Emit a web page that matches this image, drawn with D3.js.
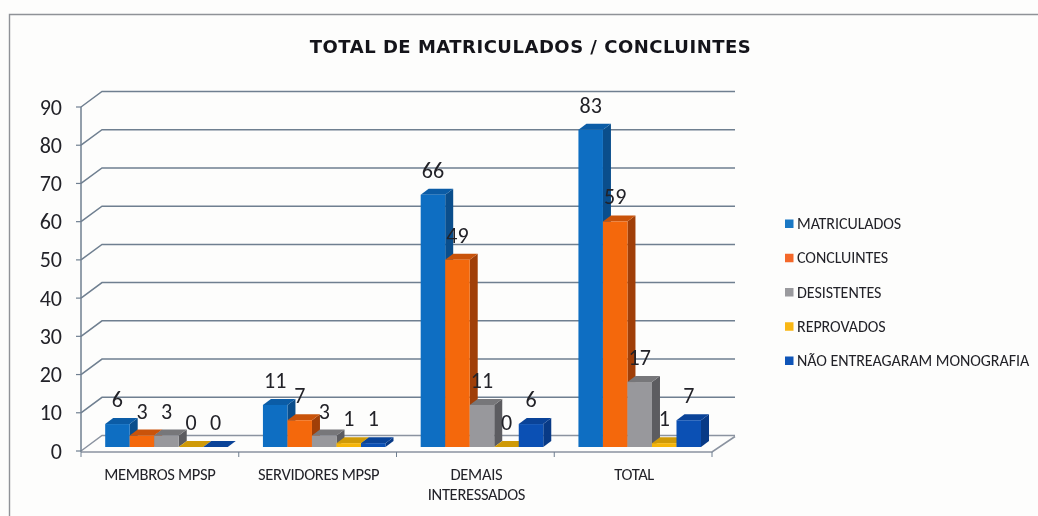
<!DOCTYPE html>
<html><head><meta charset="utf-8">
<script src="https://cdn.jsdelivr.net/npm/d3@7/dist/d3.min.js"></script>
<style>html,body{margin:0;padding:0;background:#fdfdfc}svg{display:block;filter:blur(.45px)}</style>
</head><body><svg id="c" width="1038" height="516"></svg>
<script>
const title = "TOTAL DE MATRICULADOS / CONCLUINTES";
const categories = ["MEMBROS MPSP","SERVIDORES MPSP","DEMAIS INTERESSADOS","TOTAL"];
const seriesNames = ["MATRICULADOS","CONCLUINTES","DESISTENTES","REPROVADOS","NÃO ENTREAGARAM MONOGRAFIA"];
const matriculados = [6,11,66,83];
const concluintes = [3,7,49,59];
const desistentes = [3,3,11,17];
const reprovados = [0,1,0,1];
const naoEntregaram = [0,1,6,7];
const seriesValues = [matriculados,concluintes,desistentes,reprovados,naoEntregaram];
const yTicks = [0,10,20,30,40,50,60,70,80,90];
const frontColors = ["#0e6ec2","#f4680c","#98989c","#f5b50a","#0b50b4"];
const topColors = ["#0b5ca6","#c9530a","#77777a","#cf9a08","#0a4398"];
const sideColors = ["#0a4e8c","#a03f08","#5c5c60","#a87e06","#083a86"];
const legendColors = ["#1a78c4","#f4682a","#9a9a9e","#f9b714","#0f55b8"];

const svg = d3.select("#c");
const font = "Carlito, Lato, 'Open Sans', sans-serif";
const ink = "#222228", grid = "#6f7f90";
const y = d3.scaleLinear().domain([0,90]).range([451,107]);
const x = d3.scaleBand().domain(categories).range([81,712]).paddingInner(.223).paddingOuter(.1115);
const inner = d3.scaleBand().domain(d3.range(5)).range([0,x.bandwidth()]);
const wall = {dx:21,dy:-15.5};
const bar = {lift:-4,shift:6.6,dx:8,dy:-6};

// frame
svg.append("path").attr("d","M9.5 516V14.5H1038").attr("fill","none").attr("stroke","#8f9297").attr("stroke-width",1.4);
svg.append("text").text(title).attr("x",530.5).attr("y",52.5).attr("text-anchor","middle")
  .attr("font-family","'DejaVu Sans',sans-serif").attr("font-weight",700).attr("font-size",18).attr("letter-spacing",.5).attr("fill","#14141a");

// walls and gridlines
const g = svg.append("g");
yTicks.forEach(t=>{
  const yy=y(t);
  g.append("path").attr("d",`M${x.range()[0]} ${yy}l${wall.dx} ${wall.dy}H${x.range()[1]+wall.dx+2}`)
    .attr("fill","none").attr("stroke",t===0?"#8b93a0":grid).attr("stroke-width",1.5);
  g.append("line").attr("x1",76).attr("x2",81).attr("y1",yy).attr("y2",yy).attr("stroke",grid).attr("stroke-width",1.2);
  svg.append("text").text(t).attr("x",62).attr("y",yy+7.5).attr("text-anchor","end")
    .attr("font-family",font).attr("font-size",22).attr("fill",ink);
});
g.append("line").attr("x1",81).attr("x2",81).attr("y1",y(90)).attr("y2",y(0)+1).attr("stroke",grid).attr("stroke-width",1.5);
g.append("path").attr("d",`M81 ${y(0)+1}H712l23 -15.5`).attr("fill","none").attr("stroke","#8b93a0").attr("stroke-width",1.6);
const step=x.step();
d3.range(5).forEach(i=>g.append("line").attr("x1",81+i*step).attr("x2",81+i*step).attr("y1",y(0)+1).attr("y2",y(0)+6).attr("stroke",grid));

// bars
const bars = svg.append("g");
categories.forEach((c,ci)=>{
  seriesValues.forEach((vals,si)=>{
    const v=vals[ci], w=inner.bandwidth();
    const x0=x(c)+bar.shift+inner(si), y0=y(0)+bar.lift, yt=y(v)+bar.lift;
    bars.append("path").attr("d",`M${x0+w} ${y0}l${bar.dx} ${bar.dy}V${yt+bar.dy}l${-bar.dx} ${-bar.dy}Z`).attr("fill",sideColors[si]);
    bars.append("path").attr("d",`M${x0} ${yt}l${bar.dx} ${bar.dy}h${w}l${-bar.dx} ${-bar.dy}Z`).attr("fill",topColors[si]);
    bars.append("rect").attr("x",x0).attr("y",yt).attr("width",w).attr("height",y0-yt).attr("fill",frontColors[si]);
  });
});
// value labels drawn after all bars
categories.forEach((c,ci)=>{
  seriesValues.forEach((vals,si)=>{
    const v=vals[ci], w=inner.bandwidth();
    svg.append("text").text(v).attr("x",x(c)+bar.shift+inner(si)+w/2).attr("y",y(v)+bar.lift+bar.dy-11)
      .attr("text-anchor","middle").attr("font-family",font).attr("font-size",22).attr("fill",ink);
  });
});
// category labels
const catLines = c => c==="DEMAIS INTERESSADOS" ? ["DEMAIS","INTERESSADOS"] : [c];
const catShift = {"MEMBROS MPSP":0,"SERVIDORES MPSP":1,"DEMAIS INTERESSADOS":1,"TOTAL":1};
categories.forEach(c=>{
  catLines(c).forEach((l,i)=>{
    svg.append("text").text(l).attr("x",x(c)+x.bandwidth()/2+catShift[c]).attr("y",480+i*19.5)
      .attr("text-anchor","middle").attr("font-family",font).attr("font-size",16.5).attr("letter-spacing",-.3).attr("fill",ink);
  });
});
// legend
const ly=d3.scalePoint().domain(seriesNames).range([224,361]);
seriesNames.forEach((n,i)=>{
  svg.append("rect").attr("x",785).attr("y",ly(n)-4.5).attr("width",8.5).attr("height",8.5).attr("fill",legendColors[i]);
  svg.append("text").text(n).attr("x",797).attr("y",ly(n)+5).attr("font-family",font).attr("font-size",16).attr("letter-spacing",-.05).attr("fill",ink);
});
</script></body></html>
